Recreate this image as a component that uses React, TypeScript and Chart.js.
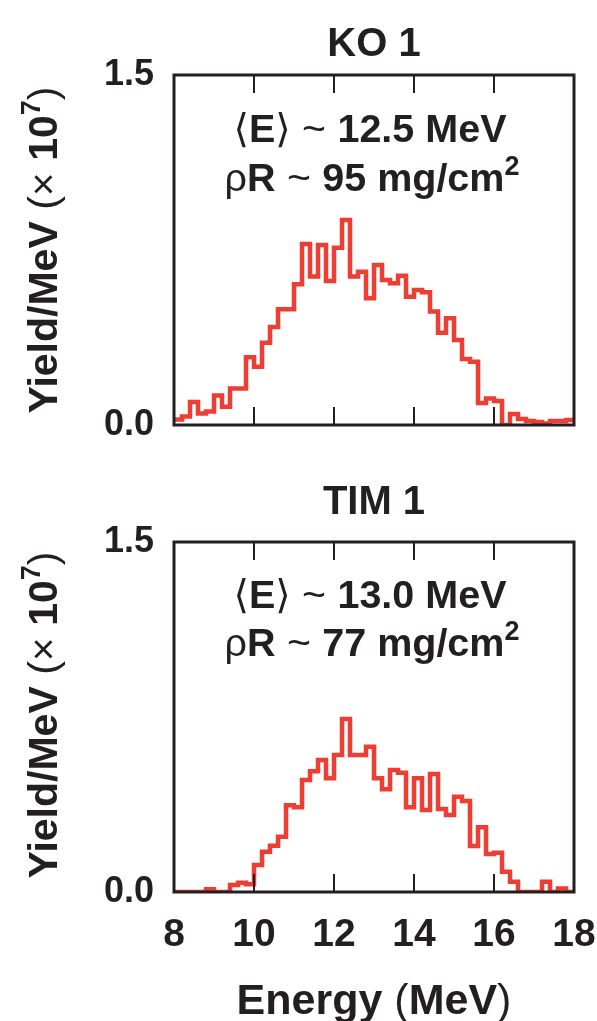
import React, { useEffect, useRef } from "react";
import { Chart, registerables } from "chart.js";

Chart.register(...registerables);

// ---------- data ----------
const binLow = [
  8.0, 8.2, 8.4, 8.6, 8.8, 9.0, 9.2, 9.4, 9.6, 9.8,
  10.0, 10.2, 10.4, 10.6, 10.8, 11.0, 11.2, 11.4, 11.6, 11.8,
  12.0, 12.2, 12.4, 12.6, 12.8, 13.0, 13.2, 13.4, 13.6, 13.8,
  14.0, 14.2, 14.4, 14.6, 14.8, 15.0, 15.2, 15.4, 15.6, 15.8,
  16.0, 16.2, 16.4, 16.6, 16.8, 17.0, 17.2, 17.4, 17.6, 17.8,
];
const lastEdge = 18.0;

const yieldKO1 = [
  0.024, 0.036, 0.099, 0.049, 0.058, 0.126, 0.078, 0.156, 0.156, 0.29,
  0.25, 0.353, 0.42, 0.496, 0.496, 0.603, 0.776, 0.636, 0.771, 0.617,
  0.76, 0.879, 0.636, 0.657, 0.543, 0.686, 0.621, 0.607, 0.64, 0.55,
  0.579, 0.569, 0.486, 0.395, 0.457, 0.364, 0.283, 0.271, 0.094, 0.114,
  0.103, 0.0, 0.047, 0.026, 0.017, 0.013, 0.006, 0.017, 0.017, 0.021,
];

const yieldTIM1 = [
  0, 0, 0, 0, 0.012, 0, 0, 0.03, 0.04, 0.033,
  0.116, 0.173, 0.198, 0.237, 0.372, 0.363, 0.48, 0.517, 0.566, 0.487,
  0.587, 0.741, 0.587, 0.587, 0.623, 0.487, 0.44, 0.523, 0.511, 0.363,
  0.487, 0.351, 0.506, 0.356, 0.33, 0.408, 0.39, 0.197, 0.277, 0.163,
  0.168, 0.087, 0.044, 0, 0, 0, 0.044, 0, 0.015, 0,
];

const xTickValues = [8, 10, 12, 14, 16, 18];
const innerTickValues = [10, 12, 14, 16];
const yTickValues = [0, 1.5];
const xRange = [8, 18];
const yRange = [0, 1.5];

const panelTitles = ["KO 1", "TIM 1"];
const meanEnergy = ["12.5", "13.0"];
const arealDensity = ["95", "77"];

// ---------- styles ----------
const FONT = "'Liberation Sans', Arial, Helvetica, 'DejaVu Sans', sans-serif";
const INK = "#231F20";
const RED = "#EE3E34";
const W = 597;
const PLOT_LEFT = 174;
const PLOT_RIGHT = 574;

type Seg = { t: string; w?: string; s?: number; dy?: number };

function drawRich(ctx: CanvasRenderingContext2D, segs: Seg[], x: number, y: number, size: number) {
  const widths = segs.map((sg) => {
    ctx.font = `${sg.w || "bold"} ${sg.s || size}px ${FONT}`;
    return ctx.measureText(sg.t).width;
  });
  const total = widths.reduce((a, b) => a + b, 0);
  let cx = x - total / 2;
  ctx.textAlign = "left";
  ctx.textBaseline = "alphabetic";
  segs.forEach((sg, i) => {
    ctx.font = `${sg.w || "bold"} ${sg.s || size}px ${FONT}`;
    ctx.fillText(sg.t, cx, y + (sg.dy || 0));
    cx += widths[i];
  });
}

type PanelProps = {
  top: number;
  height: number;
  plotTop: number;
  plotBottom: number;
  values: number[];
  title: string;
  eMean: string;
  rho: string;
  showX: boolean;
  titleBase: number;
  eBase: number;
  rBase: number;
  yTitleCenter: number;
  xTitleBase?: number;
};

function Panel(p: PanelProps) {
  const ref = useRef<HTMLCanvasElement | null>(null);

  useEffect(() => {
    if (!ref.current) return;
    const pts = binLow.map((x, i) => ({ x, y: p.values[i] }));
    pts.push({ x: lastEdge, y: p.values[p.values.length - 1] });

    const decor = {
      id: "decor",
      afterDraw(chart: any) {
        const ctx: CanvasRenderingContext2D = chart.ctx;
        const a = chart.chartArea;
        const xs = chart.scales.x;
        const cx = (a.left + a.right) / 2;
        ctx.save();
        ctx.fillStyle = INK;
        ctx.strokeStyle = INK;
        // inner ticks top & bottom
        ctx.lineWidth = 2;
        innerTickValues.forEach((v) => {
          const px = Math.round(xs.getPixelForValue(v));
          ctx.beginPath();
          ctx.moveTo(px, a.top);
          ctx.lineTo(px, a.top + 18);
          ctx.moveTo(px, a.bottom);
          ctx.lineTo(px, a.bottom - 18);
          ctx.stroke();
        });
        // frame
        ctx.lineWidth = 3;
        ctx.strokeRect(a.left, a.top, a.right - a.left, a.bottom - a.top);
        // panel title
        drawRich(ctx, [{ t: p.title }], cx, p.titleBase, 40);
        // annotations
        drawRich(
          ctx,
          [
            { t: "\u27E8", w: "normal" },
            { t: "E" },
            { t: "\u27E9", w: "normal" },
            { t: " ~ ", w: "normal", s: 41 },
            { t: `${p.eMean} MeV` },
          ],
          cx - 4,
          p.eBase,
          39.5
        );
        drawRich(
          ctx,
          [
            { t: "\u03C1", w: "normal" },
            { t: "R" },
            { t: " ~ ", w: "normal", s: 41 },
            { t: `${p.rho} mg/cm` },
            { t: "2", s: 27, dy: -16 },
          ],
          cx - 2,
          p.rBase,
          39.5
        );
        // y title (rotated)
        ctx.save();
        ctx.translate(57, p.yTitleCenter);
        ctx.rotate(-Math.PI / 2);
        drawRich(
          ctx,
          [
            { t: "Yield/MeV " },
            { t: "(", w: "normal" },
            { t: "\u00D7 ", w: "normal" },
            { t: "10" },
            { t: "7", s: 27, dy: -17 },
            { t: ")", w: "normal" },
          ],
          0,
          0,
          41
        );
        ctx.restore();
        // x title
        if (p.xTitleBase !== undefined) {
          drawRich(
            ctx,
            [{ t: "Energy " }, { t: "(", w: "normal" }, { t: "MeV" }, { t: ")", w: "normal" }],
            cx,
            p.xTitleBase,
            43
          );
        }
        ctx.restore();
      },
    };

    const chart = new Chart(ref.current, {
      type: "line",
      data: {
        datasets: [
          {
            data: pts,
            stepped: "before",
            borderColor: RED,
            borderWidth: 4.5,
            pointRadius: 0,
            fill: false,
            borderJoinStyle: "miter",
            borderCapStyle: "butt",
          } as any,
        ],
      },
      options: {
        responsive: false,
        maintainAspectRatio: false,
        animation: false,
        devicePixelRatio: 1,
        layout: {
          padding: {
            top: p.plotTop,
            right: W - PLOT_RIGHT,
            bottom: 0,
            left: 0,
          },
        },
        plugins: {
          legend: { display: false },
          tooltip: { enabled: false },
          title: { display: false },
        },
        scales: {
          x: {
            type: "linear",
            min: xRange[0],
            max: xRange[1],
            display: p.showX,
            grid: { display: false, drawTicks: false },
            border: { display: false },
            afterBuildTicks: (s: any) => {
              s.ticks = xTickValues.map((v) => ({ value: v }));
            },
            afterFit: (s: any) => {
              s.height = p.height - p.plotBottom;
              s.paddingLeft = 0;
              s.paddingRight = 0;
            },
            ticks: {
              autoSkip: false,
              maxRotation: 0,
              minRotation: 0,
              padding: 20,
              color: INK,
              font: { family: FONT, size: 39, weight: "bold" },
              callback: (v: any) => String(v),
            },
          },
          y: {
            type: "linear",
            min: yRange[0],
            max: yRange[1],
            grid: { display: false, drawTicks: false },
            border: { display: false },
            afterBuildTicks: (s: any) => {
              s.ticks = yTickValues.map((v) => ({ value: v }));
            },
            afterFit: (s: any) => {
              s.width = PLOT_LEFT;
              s.paddingTop = 0;
              s.paddingBottom = 0;
            },
            ticks: {
              padding: 20,
              color: INK,
              font: { family: FONT, size: 36, weight: "bold" },
              callback: (v: any) => Number(v).toFixed(1),
            },
          },
        },
      } as any,
      plugins: [decor],
    });
    return () => chart.destroy();
  }, []);

  return (
    <canvas
      ref={ref}
      width={W}
      height={p.height}
      style={{ position: "absolute", left: 0, top: p.top, width: W, height: p.height, display: "block" }}
    />
  );
}

export default function App() {
  return (
    <div
      style={{
        position: "absolute",
        left: 0,
        top: 0,
        width: W,
        height: 1021,
        background: "#ffffff",
        overflow: "hidden",
      }}
    >
      <Panel
        top={0}
        height={470}
        plotTop={75}
        plotBottom={425}
        values={yieldKO1}
        title={panelTitles[0]}
        eMean={meanEnergy[0]}
        rho={arealDensity[0]}
        showX={false}
        titleBase={56}
        eBase={142}
        rBase={191}
        yTitleCenter={250}
      />
      <Panel
        top={470}
        height={551}
        plotTop={72}
        plotBottom={422}
        values={yieldTIM1}
        title={panelTitles[1]}
        eMean={meanEnergy[1]}
        rho={arealDensity[1]}
        showX={true}
        titleBase={44}
        eBase={138}
        rBase={186}
        yTitleCenter={245}
        xTitleBase={544}
      />
    </div>
  );
}
